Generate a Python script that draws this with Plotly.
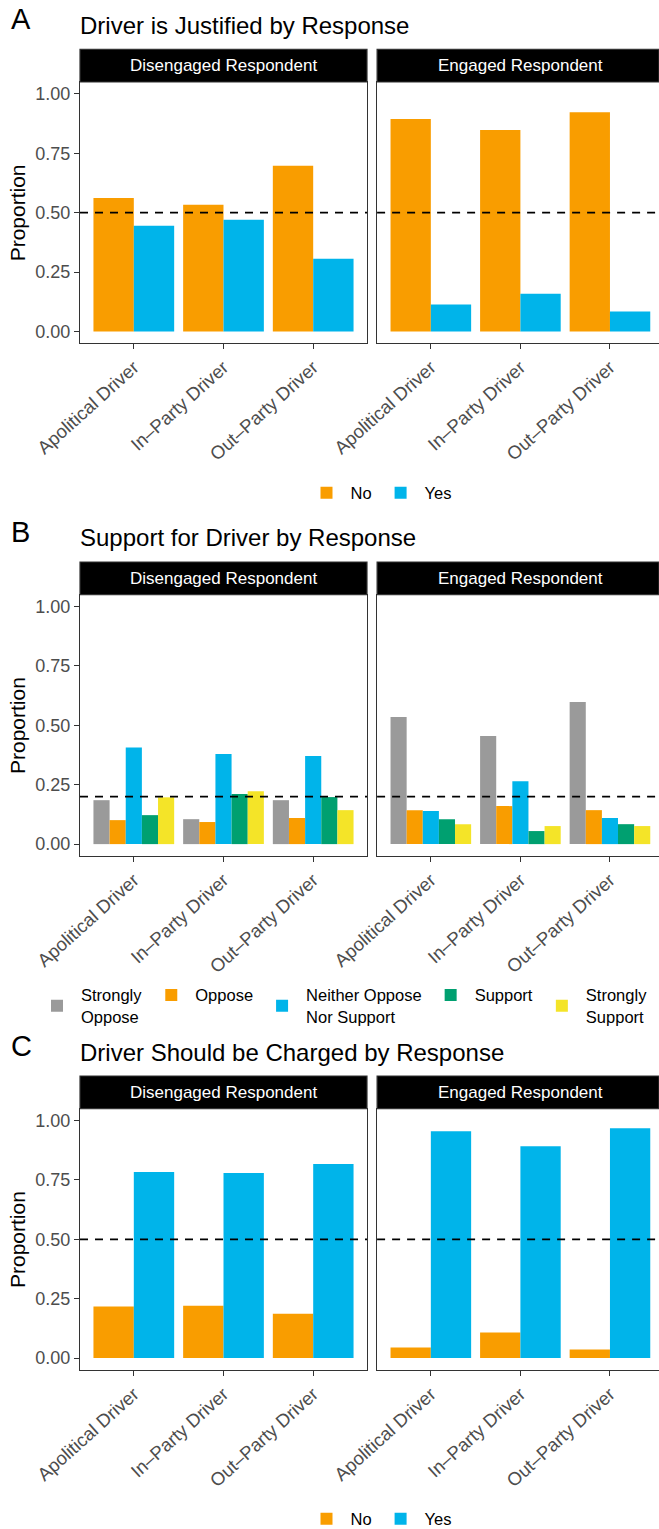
import plotly.graph_objects as go

W, H = 659, 1529

# ---------------- data ----------------
drivers = ["Apolitical Driver", "In\u2013Party Driver", "Out\u2013Party Driver"]
facets = ["Disengaged Respondent", "Engaged Respondent"]

yes_no_labels = ["No", "Yes"]
yes_no_colors = ["#F99D00", "#00B4EA"]

# Panel A: Driver is justified
justified_no_disengaged = [0.562, 0.533, 0.697]
justified_yes_disengaged = [0.445, 0.470, 0.306]
justified_no_engaged = [0.894, 0.848, 0.923]
justified_yes_engaged = [0.113, 0.159, 0.084]

# Panel B: Support for driver
support_labels = ["Strongly<br>Oppose", "Oppose", "Neither Oppose<br>Nor Support", "Support", "Strongly<br>Support"]
support_colors = ["#9A9A9A", "#F99D00", "#00B4EA", "#00A070", "#F4E428"]
support_disengaged = [
    [0.185, 0.105, 0.185],  # Strongly Oppose
    [0.101, 0.093, 0.110],  # Oppose
    [0.407, 0.379, 0.371],  # Neither
    [0.122, 0.211, 0.198],  # Support
    [0.197, 0.223, 0.143],  # Strongly Support
]
support_engaged = [
    [0.535, 0.455, 0.598],
    [0.143, 0.160, 0.143],
    [0.139, 0.265, 0.110],
    [0.105, 0.055, 0.084],
    [0.084, 0.076, 0.076],
]

# Panel C: Driver should be charged
charged_no_disengaged = [0.217, 0.221, 0.187]
charged_yes_disengaged = [0.783, 0.779, 0.817]
charged_no_engaged = [0.045, 0.108, 0.036]
charged_yes_engaged = [0.955, 0.892, 0.968]

panel_letters = ["A", "B", "C"]
panel_titles = ["Driver is Justified by Response",
                "Support for Driver by Response",
                "Driver Should be Charged by Response"]
reference_lines = [0.5, 0.2, 0.5]
y_ticks = [0, 0.25, 0.5, 0.75, 1.0]

# ---------------- layout geometry (px) ----------------
FONT = "Liberation Sans, Arial, Helvetica, sans-serif"
panel_top = [82.0, 594.7, 1108.7]
panel_h = 261.3
strip_h = 32.7
col_x = [(80.0, 367.0), (377.1, 663.7)]
unit_px = (col_x[0][1] - col_x[0][0]) / 3.2

def fx(px):
    return px / W

def fy(py):
    return 1 - py / H

fig = go.Figure()

panels = [
    [[justified_no_disengaged, justified_yes_disengaged],
     [justified_no_engaged, justified_yes_engaged]],
    [support_disengaged, support_engaged],
    [[charged_no_disengaged, charged_yes_disengaged],
     [charged_no_engaged, charged_yes_engaged]],
]
legend_ids = ["legend", "legend2", "legend3"]

layout_axes = {}
shapes = []
annotations = []

for r in range(3):
    if r == 1:
        labels, colors = support_labels, support_colors
    else:
        labels, colors = yes_no_labels, yes_no_colors
    for c in range(2):
        idx = r * 2 + c + 1
        xa = "x" if idx == 1 else f"x{idx}"
        ya = "y" if idx == 1 else f"y{idx}"
        series = panels[r][c]
        for k, vals in enumerate(series):
            fig.add_trace(go.Bar(
                x=drivers, y=vals, name=labels[k],
                marker=dict(color=colors[k], line=dict(width=0)),
                xaxis=xa, yaxis=ya,
                legend=legend_ids[r],
                showlegend=(c == 0),
                legendgroup=f"{r}-{k}",
                hoverinfo="skip",
            ))
        x0, x1 = col_x[c]
        x1c = min(x1, W)
        right_range = 2.6 - (x1 - x1c) / unit_px
        top = panel_top[r]
        bot = top + panel_h
        layout_axes[f"xaxis{'' if idx == 1 else idx}"] = dict(
            domain=[fx(x0), fx(x1c)], anchor=ya,
            type="category", categoryorder="array", categoryarray=drivers,
            range=[-0.6, right_range],
            showline=True, linecolor="#333333", linewidth=1.2, mirror=True,
            ticks="outside", ticklen=5, tickwidth=1.1, tickcolor="#333333",
            tickangle=-42, tickfont=dict(family=FONT, size=18.5, color="#4D4D4D"),
            showgrid=False, zeroline=False, fixedrange=True,
        )
        layout_axes[f"yaxis{'' if idx == 1 else idx}"] = dict(
            domain=[fy(bot), fy(top)], anchor=xa,
            range=[-0.05, 1.05],
            tickvals=y_ticks, tickformat=".2f",
            showticklabels=(c == 0),
            ticks="outside" if c == 0 else "", ticklen=5, tickwidth=1.1, tickcolor="#333333",
            tickfont=dict(family=FONT, size=18, color="#4D4D4D"),
            showline=True, linecolor="#333333", linewidth=1.2, mirror=(c == 0),
            showgrid=False, zeroline=False, fixedrange=True,
        )
        # reference dashed line
        shapes.append(dict(
            type="line", xref=f"{xa} domain", yref=ya,
            x0=0, x1=1, y0=reference_lines[r], y1=reference_lines[r],
            line=dict(color="black", width=1.8, dash="8px,7px"), layer="above",
        ))
        # strip
        shapes.append(dict(
            type="rect", xref="paper", yref="paper",
            x0=fx(x0), x1=fx(x1c), y0=fy(top), y1=fy(top - strip_h),
            fillcolor="black", line=dict(color="#333333", width=1.2), layer="above",
        ))
        annotations.append(dict(
            text=facets[c], xref="paper", yref="paper",
            x=fx((x0 + x1) / 2), y=fy(top - strip_h / 2),
            xanchor="center", yanchor="middle", showarrow=False,
            font=dict(family=FONT, size=17, color="white"),
        ))
    # y-axis title
    annotations.append(dict(
        text="Proportion", xref="paper", yref="paper",
        x=fx(17.7), y=fy(panel_top[r] + panel_h / 2),
        xanchor="center", yanchor="middle", textangle=-90, showarrow=False,
        font=dict(family=FONT, size=21, color="black"),
    ))
    # panel letter and title
    strip_top = panel_top[r] - strip_h
    annotations.append(dict(
        text=panel_letters[r], xref="paper", yref="paper",
        x=fx(9), y=fy(strip_top - 30.5),
        xanchor="left", yanchor="middle", showarrow=False,
        font=dict(family=FONT, size=29, color="black"),
    ))
    annotations.append(dict(
        text=panel_titles[r], xref="paper", yref="paper",
        x=fx(78), y=fy(strip_top - 24),
        xanchor="left", yanchor="middle", showarrow=False,
        font=dict(family=FONT, size=24, color="black"),
    ))

legend_common = dict(
    orientation="h", xanchor="center", yanchor="middle",
    bgcolor="rgba(0,0,0,0)", borderwidth=0, itemwidth=38,
    font=dict(family=FONT, size=16.5, color="black"), valign="middle",
    traceorder="normal", itemclick=False, itemdoubleclick=False,
)

fig.update_layout(
    width=W, height=H,
    margin=dict(l=0, r=0, t=0, b=0, pad=0, autoexpand=False),
    paper_bgcolor="white", plot_bgcolor="white",
    barmode="group", bargap=0.1, bargroupgap=0,
    font=dict(family=FONT),
    shapes=shapes, annotations=annotations,
    legend=dict(x=fx(380), y=fy(493), **legend_common),
    legend2=dict(x=fx(343), y=fy(1005.7), **legend_common),
    legend3=dict(x=fx(380), y=fy(1519), **legend_common),
    **layout_axes,
)

# remove the browser's default 8px page margin so the figure sits at the window origin
fig.write_html(
    "out.html",
    config={"displayModeBar": False, "staticPlot": False},
    post_script="document.body.style.margin='0px';document.body.style.overflow='hidden';",
)
